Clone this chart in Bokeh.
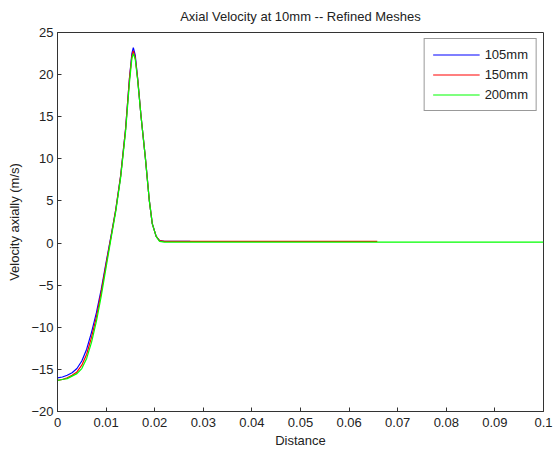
import numpy as np
from bokeh.plotting import figure
from bokeh.models import Range1d, FixedTicker
from bokeh.embed import file_html
from bokeh.resources import INLINE

# Data
x_105 = [0, 0.001, 0.002, 0.003, 0.004, 0.005, 0.006, 0.007, 0.008, 0.009, 0.010, 0.011, 0.012,
         0.013, 0.014, 0.0148, 0.0153, 0.0156, 0.0160, 0.0165, 0.0172, 0.0181, 0.0189, 0.0195, 0.0203, 0.021, 0.022, 0.0273]
y_105 = [-16.0, -15.9, -15.7, -15.4, -14.9, -14.0, -12.6, -10.6, -8.3, -5.5, -2.3, 0.8, 4.0,
         8.0, 13.5, 19.5, 22.5, 23.2, 22.3, 19.5, 15.0, 10.0, 5.0, 2.3, 0.8, 0.3, 0.2, 0.2]

x_150 = [0, 0.001, 0.002, 0.003, 0.004, 0.005, 0.006, 0.007, 0.008, 0.009, 0.010, 0.011, 0.012,
         0.013, 0.014, 0.0148, 0.0153, 0.0156, 0.0160, 0.0165, 0.0172, 0.0181, 0.0189, 0.0195, 0.0203, 0.021, 0.022, 0.0658]
y_150 = [-16.3, -16.2, -16.0, -15.7, -15.3, -14.5, -13.2, -11.2, -8.8, -5.8, -2.5, 0.7, 4.0,
         8.0, 13.5, 19.5, 22.2, 22.8, 22.0, 19.5, 15.0, 10.0, 5.0, 2.3, 0.8, 0.3, 0.2, 0.2]

x_200 = [0, 0.001, 0.002, 0.003, 0.004, 0.005, 0.006, 0.007, 0.008, 0.009, 0.010, 0.011, 0.012,
         0.013, 0.014, 0.0148, 0.0153, 0.0156, 0.0160, 0.0165, 0.0172, 0.0181, 0.0189, 0.0195, 0.0203, 0.021, 0.022, 0.1]
y_200 = [-16.3, -16.2, -16.1, -15.8, -15.5, -14.9, -13.7, -11.8, -9.3, -6.3, -2.9, 0.5, 3.8,
         7.8, 13.2, 19.0, 21.9, 22.5, 21.8, 19.3, 15.0, 10.0, 5.0, 2.3, 0.8, 0.2, 0.1, 0.1]

series_names = ["105mm", "150mm", "200mm"]
series_colors = ["#0000ff", "#ff0000", "#00ff00"]

x_ticks = [0, 0.01, 0.02, 0.03, 0.04, 0.05, 0.06, 0.07, 0.08, 0.09, 0.1]
x_tick_labels = ["0", "0.01", "0.02", "0.03", "0.04", "0.05", "0.06", "0.07", "0.08", "0.09", "0.1"]
y_ticks = [-20, -15, -10, -5, 0, 5, 10, 15, 20, 25]
title_text = "Axial Velocity at 10mm -- Refined Meshes"

FONT = "Liberation Sans"
FS = "13px"

p = figure(width=553, height=457, output_backend="svg", toolbar_location=None,
           x_range=Range1d(0, 0.1), y_range=Range1d(-20, 25),
           min_border_left=57, min_border_right=10, min_border_top=32, min_border_bottom=46)
p.title.text = title_text
p.title.align = "center"
p.title.text_font = FONT
p.title.text_font_size = FS
p.title.text_font_style = "normal"
p.title.text_color = "#222222"
p.title.offset = 0
p.title.standoff = 14
p.title.vertical_align = "top"

p.xgrid.visible = False
p.ygrid.visible = False
p.outline_line_color = "#333333"
p.outline_line_width = 1

for xs, ys, c, n in zip([x_105, x_150, x_200], [y_105, y_150, y_200], series_colors, series_names):
    p.line(xs, ys, line_color=c, line_width=1.2, legend_label=n)

for ax in [p.xaxis[0], p.yaxis[0]]:
    ax.major_tick_in = 4
    ax.major_tick_out = 0
    ax.minor_tick_in = 0
    ax.minor_tick_out = 0
    ax.axis_line_color = "#333333"
    ax.major_tick_line_color = "#333333"
    ax.major_label_text_font = FONT
    ax.major_label_text_font_size = FS
    ax.major_label_text_color = "#222222"
    ax.axis_label_text_font = FONT
    ax.axis_label_text_font_size = FS
    ax.axis_label_text_font_style = "normal"
    ax.axis_label_text_color = "#222222"

p.xaxis[0].ticker = FixedTicker(ticks=x_ticks)
p.xaxis[0].major_label_overrides = {t: l for t, l in zip(x_ticks, x_tick_labels)}
p.xaxis[0].axis_label = "Distance"
p.xaxis[0].axis_label_standoff = 3
p.xaxis[0].major_label_standoff = 6
p.yaxis[0].ticker = FixedTicker(ticks=y_ticks)
p.yaxis[0].axis_label = "Velocity axially (m/s)"
p.yaxis[0].axis_label_standoff = 6
p.yaxis[0].major_label_standoff = 4

lg = p.legend[0]
lg.location = "top_right"
lg.label_text_font = FONT
lg.label_text_font_size = FS
lg.label_text_color = "#222222"
lg.border_line_color = "#333333"
lg.border_line_width = 1
lg.background_fill_alpha = 1
lg.glyph_width = 47
lg.label_standoff = 5
lg.spacing = 5
lg.padding = 8
lg.margin = 6
lg.label_height = 15
lg.glyph_height = 15

out = file_html(p, INLINE)
open("out.html", "w").write(out)
